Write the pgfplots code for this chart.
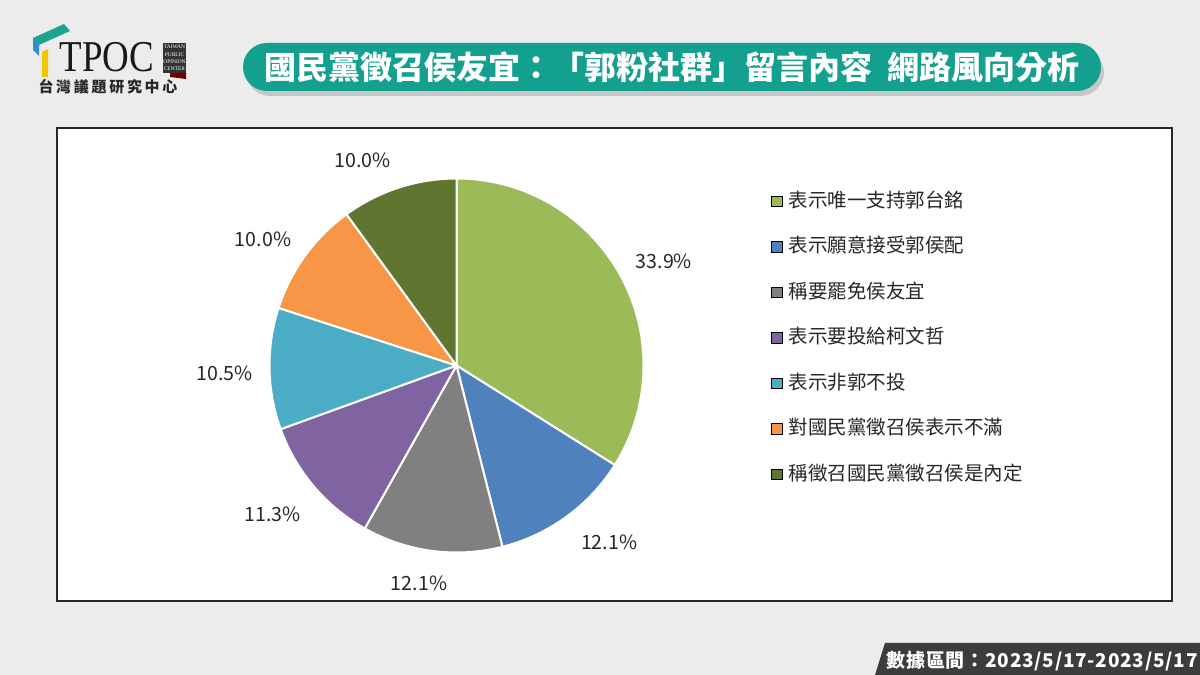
\documentclass[border=0pt]{standalone}
\usepackage{fontspec}
\setmainfont{Noto Sans CJK TC}
\newfontfamily\logoserif{Liberation Serif}
\usepackage{pgfplots}
\usepackage{pgfplotstable}
\pgfplotsset{compat=1.18}
\definecolor{bgc}{HTML}{ECECEC}
\definecolor{titlec}{HTML}{13A08E}
\definecolor{datec}{HTML}{3C3C3C}
\definecolor{labc}{HTML}{262626}
\definecolor{logoteal}{HTML}{1BA58F}
\definecolor{logoblue}{HTML}{2D8FD0}
\definecolor{logoyellow}{HTML}{F2C500}
\definecolor{pie0}{HTML}{9BBB59}
\definecolor{pie1}{HTML}{4F81BD}
\definecolor{pie2}{HTML}{808080}
\definecolor{pie3}{HTML}{8064A2}
\definecolor{pie4}{HTML}{4BACC6}
\definecolor{pie5}{HTML}{F79646}
\definecolor{pie6}{HTML}{607530}
% val = share (%), lr = label distance (pie radii), ld = label angle nudge (deg)
\pgfplotstableread{
val  lr    ld
33.9 1.242 -2.2
12.1 1.251 4.7
12.1 1.182 -2.2
11.3 1.264 -1.4
10.5 1.240 0.9
10.0 1.236 2.8
10.0 1.207 6.5
}\piedata
\def\tot{0}%
\pgfplotsforeachungrouped \i in {0,...,6}{%
  \pgfplotstablegetelem{\i}{val}\of\piedata
  \pgfmathsetmacro\tot{\tot+\pgfplotsretval}%
}%
\def\cum{0}%
\pgfplotsforeachungrouped \i in {0,...,6}{%
  \pgfplotstablegetelem{\i}{val}\of\piedata
  \let\pv\pgfplotsretval
  \pgfplotstablegetelem{\i}{lr}\of\piedata
  \let\plr\pgfplotsretval
  \pgfplotstablegetelem{\i}{ld}\of\piedata
  \let\pld\pgfplotsretval
  \pgfmathsetmacro\pa{90-(\cum/\tot)*360}%
  \pgfmathsetmacro\cumn{\cum+\pv}%
  \pgfmathsetmacro\pb{90-(\cumn/\tot)*360}%
  \pgfmathsetmacro\pm{(\pa+\pb)/2+\pld}%
  \expandafter\xdef\csname sa\i\endcsname{\pa}%
  \expandafter\xdef\csname sb\i\endcsname{\pb}%
  \expandafter\xdef\csname sm\i\endcsname{\pm}%
  \expandafter\xdef\csname sr\i\endcsname{\plr}%
  \expandafter\xdef\csname sv\i\endcsname{\pv}%
  \global\let\cum\cumn
}%
\begin{document}
\begin{tikzpicture}
\useasboundingbox (0,0) rectangle (600pt,337.5pt);
\fill[bgc] (0,0) rectangle (600pt,337.5pt);
\begin{scope}[x=0.5pt,y=-0.5pt,yshift=337.5pt]
  % panel
  \draw[black!85, line width=0.6pt, fill=white] (57,128) rectangle (1172,601);
  % title
  \fill[black!22, rounded corners=12pt] (246,49) rectangle (1104,96);
  \fill[titlec, rounded corners=12pt] (243,43) rectangle (1101,91);
  \node[text=white, font=\fontsize{16}{18}\selectfont\bfseries] at (672,67) {國民黨徵召侯友宜：「郭粉社群」留言內容\hspace{0.45em}網路風向分析};
  % logo
  \fill[logoteal] (33,38) -- (64,24) -- (70,31) -- (39,45) -- cycle;
  \fill[logoblue] (33,38) -- (39,45) -- (39,56) -- (33,50) -- cycle;
  \fill[logoyellow] (42,52) -- (48,49) -- (48,77) -- (42,77) -- cycle;
  \node[font=\logoserif\fontsize{22}{22}\selectfont, xscale=0.84, text=black!90] at (107,57) {TPOC};
  \fill[black!80] (163,43) rectangle (186,73);
  \node[font=\logoserif\fontsize{2.7}{3.6}\selectfont, align=center, inner sep=0pt, text=white] at (174.5,58) {TAIWAN\\PUBLIC\\OPINION\\CENTER};
  \fill[red!45!black] (170,73) -- (186,73) -- (186,79) -- (170,77) -- cycle;
  \node[font=\fontsize{7.5}{8}\selectfont\bfseries\addfontfeature{LetterSpace=18}, text=black!85] at (108,87) {台灣議題研究中心};
  % date box
  \fill[datec] (885,643) -- (1200,643) -- (1200,675) -- (875,675) -- cycle;
  \node[anchor=east, text=white, font=\fontsize{9.5}{10}\selectfont\bfseries\addfontfeature{LetterSpace=4}, inner sep=0pt] at (1198,661) {數據區間：2023/5/17-2023/5/17};
\end{scope}
\begin{axis}[
  x=93.5pt, y=93.5pt,
  xmin=-1.3, xmax=1.3, ymin=-1.3, ymax=1.3,
  at={(228.25pt,154.75pt)}, anchor=origin,
  hide axis, clip=false,
  legend image code/.code={\fill[#1] (0pt,-2.6pt) rectangle (5.2pt,2.6pt);},
  legend style={draw=none, fill=none, inner sep=0pt,
    at={(axis cs:1.682,0.933)}, anchor=north west,
    font=\fontsize{9.75}{11}\selectfont, text=labc,
    row sep=12.75pt,
    nodes={inner sep=0pt, text height=8pt, text depth=2pt},
    /tikz/every odd column/.append style={column sep=3pt}},
  legend cell align=left,
]
\pgfplotsinvokeforeach{0,...,6}{%
  \fill[pie#1, draw=white, line width=1pt, line join=round]
    (axis cs:0,0) -- (axis cs:{cos(\csname sa#1\endcsname)},{sin(\csname sa#1\endcsname)})
    arc[start angle=\csname sa#1\endcsname, end angle=\csname sb#1\endcsname, radius=93.5pt] -- cycle;
  \node[font=\fontsize{9.8}{11}\selectfont, text=labc, inner sep=0pt]
    at (axis cs:{\csname sr#1\endcsname*cos(\csname sm#1\endcsname)},{\csname sr#1\endcsname*sin(\csname sm#1\endcsname)})
    {\pgfmathprintnumber[fixed,fixed zerofill,precision=1,assume math mode=true]{\csname sv#1\endcsname}\%};
}
\addlegendimage{fill=pie0}\addlegendentry{表示唯一支持郭台銘}
\addlegendimage{fill=pie1}\addlegendentry{表示願意接受郭侯配}
\addlegendimage{fill=pie2}\addlegendentry{稱要罷免侯友宜}
\addlegendimage{fill=pie3}\addlegendentry{表示要投給柯文哲}
\addlegendimage{fill=pie4}\addlegendentry{表示非郭不投}
\addlegendimage{fill=pie5}\addlegendentry{對國民黨徵召侯表示不滿}
\addlegendimage{fill=pie6}\addlegendentry{稱徵召國民黨徵召侯是內定}
\end{axis}
\end{tikzpicture}
\end{document}
